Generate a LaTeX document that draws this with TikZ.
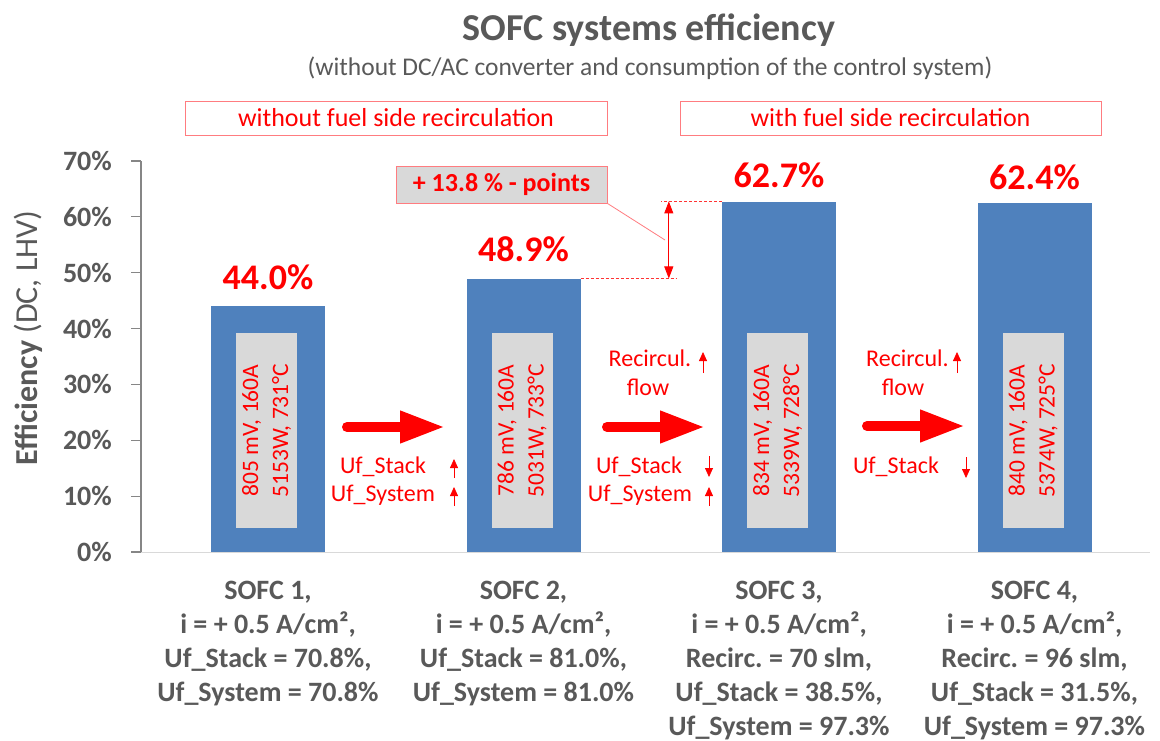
\documentclass[tikz,border=0pt]{standalone}
\usepackage{fontspec}
\setmainfont{Carlito}
\usetikzlibrary{arrows.meta}
\definecolor{barblue}{HTML}{4F81BD}
\definecolor{lgray}{HTML}{D9D9D9}
\definecolor{tgray}{HTML}{595959}
\definecolor{agray}{HTML}{868686}
\definecolor{pinkred}{HTML}{FF7C80}
\frenchspacing
\begin{document}
\begin{tikzpicture}[x=1bp,y=-1bp,
  bar/.style={fill=barblue, draw=none, minimum width=114bp, inner sep=0, anchor=south},
  inbox/.style={fill=lgray, rotate=90, minimum width=195bp, minimum height=61bp, inner sep=0, align=center, text=red, font=\fontsize{23.5bp}{30bp}\selectfont},
  val/.style={text=red, inner sep=0, font=\fontsize{36bp}{40bp}\selectfont\bfseries},
  note/.style={text=red, inner sep=0, font=\fontsize{24bp}{28bp}\selectfont},
  hdr/.style={draw=pinkred, line width=0.8bp, text=red, minimum height=34bp, inner sep=0, font=\fontsize{26bp}{28bp}\selectfont},
  ticklbl/.style={anchor=east, text=tgray, inner sep=0, font=\fontsize{28bp}{30bp}\selectfont\bfseries},
  cat/.style={anchor=north, align=center, text=tgray, inner sep=0, font=\fontsize{28bp}{34bp}\selectfont\bfseries},
  bigarrow/.style={draw=red, line width=10bp, line cap=round, -{Triangle[length=45bp,width=30bp]}},
  smallarrow/.style={draw=red, line width=0.8bp, -{Triangle[length=9bp,width=8bp]}},
  gap/.style={draw=red, line width=0.8bp, {Triangle[length=12bp,width=9bp]}-{Triangle[length=12bp,width=9bp]}},
  guide/.style={draw=red!80, line width=0.7bp, dash pattern=on 3bp off 2bp}
]
\useasboundingbox (0,0) rectangle (1160,741);
\fill[white] (0,0) rectangle (1160,741);

% title
\node[text=tgray, font=\fontsize{38bp}{40bp}\selectfont\bfseries] (title) at (649,30) {SOFC systems efficiency};
\node[text=tgray, font=\fontsize{25.5bp}{28bp}\selectfont] (subtitle) at (650,68) {(without DC/AC converter and consumption of the control system)};

% header boxes
\node[hdr, minimum width=422bp] (h1) at (396,118) {without fuel side recirculation};
\node[hdr, minimum width=421bp] (h2) at (890.5,118) {with fuel side recirculation};

% axes
\draw[lgray, line width=1bp] (141,552) -- (1150,552);
\draw[agray, line width=1.2bp] (141,161) -- (141,552);
\foreach \p in {0,...,7}{
  \pgfmathsetmacro\yy{552-55.857*\p}
  \pgfmathtruncatemacro\v{\p*10}
  \draw[agray, line width=1.2bp] (131,\yy) -- (141,\yy);
  \node[ticklbl] at (112,\yy) {\v\%};
}
\node[rotate=90, text=tgray, font=\fontsize{32bp}{34bp}\selectfont] (ytitle) at (28,338) {\textbf{Efficiency} (DC, LHV)};

% bars
\node[bar, minimum height=245.8bp] (b1) at (268,552) {};
\node[bar, minimum height=273.1bp] (b2) at (523.5,552) {};
\node[bar, minimum height=350.2bp] (b3) at (779,552) {};
\node[bar, minimum height=348.6bp] (b4) at (1034.5,552) {};

% inner boxes
\node[inbox] (g1) at (266.5,430.5) {805 mV, 160A\\5153W, 731°C};
\node[inbox] (g2) at (522,430.5) {786 mV, 160A\\5031W, 733°C};
\node[inbox] (g3) at (777.5,430.5) {834 mV, 160A\\5339W, 728°C};
\node[inbox] (g4) at (1033,430.5) {840 mV, 160A\\5374W, 725°C};

% value labels
\node[val] (v1) at ([yshift=29bp]b1.north) {44.0\%};
\node[val] (v2) at ([yshift=29bp]b2.north) {48.9\%};
\node[val] (v3) at ([yshift=26bp]b3.north) {62.7\%};
\node[val] (v4) at ([yshift=26bp]b4.north) {62.4\%};

% difference marker
\draw[guide] (b2.north east) -- ++(96,0);
\draw[guide] (b3.north west) -- ++(-61,0);
\coordinate (dtop) at ([xshift=-53bp]b3.north west);
\coordinate (dbot) at (dtop |- b2.north);
\draw[gap] (dtop) -- (dbot);
\node[fill=lgray, draw=pinkred, line width=0.8bp, minimum width=211bp, minimum height=37bp, inner sep=0, text=red, font=\fontsize{26bp}{28bp}\selectfont\bfseries] (callout) at (501.5,184.5) {+ 13.8 \% - points};
\coordinate (lead) at (665,240);
\draw[pinkred, line width=0.8bp] (callout.south east) -- (lead);

% transition arrows
\draw[bigarrow] (347,427) -- (445,427);
\draw[bigarrow] (607,427) -- (705,427);
\draw[bigarrow] (867,426) -- (965,426);

% transition labels
\node[note] (s1) at (383,467) {Uf\_Stack};
\node[note] (y1) at (383,495) {Uf\_System};
\draw[smallarrow] (454,478) -- (454,459);
\draw[smallarrow] (454,506) -- (454,487);

\node[note] (r2) at (650,358) {Recircul.};
\node[note] (f2) at (648,387) {flow};
\node[note] (s2) at (639,467) {Uf\_Stack};
\node[note] (y2) at (640,495) {Uf\_System};
\draw[smallarrow] (703,373) -- (703,352);
\draw[smallarrow] (709,456) -- (709,477);
\draw[smallarrow] (709,506) -- (709,487);

\node[note] (r3) at (907.5,358) {Recircul.};
\node[note] (f3) at (903,387) {flow};
\node[note] (s3) at (896,467) {Uf\_Stack};
\draw[smallarrow] (957,373) -- (957,352);
\draw[smallarrow] (966,457) -- (966,478);

% category labels
\node[cat] (c1) at (268,581) {SOFC 1,\\i = + 0.5 A/cm²,\\Uf\_Stack = 70.8\%,\\Uf\_System = 70.8\%};
\node[cat] (c2) at (523.5,581) {SOFC 2,\\i = + 0.5 A/cm²,\\Uf\_Stack = 81.0\%,\\Uf\_System = 81.0\%};
\node[cat] (c3) at (779,581) {SOFC 3,\\i = + 0.5 A/cm²,\\Recirc. = 70 slm,\\Uf\_Stack = 38.5\%,\\Uf\_System = 97.3\%};
\node[cat] (c4) at (1034.5,581) {SOFC 4,\\i = + 0.5 A/cm²,\\Recirc. = 96 slm,\\Uf\_Stack = 31.5\%,\\Uf\_System = 97.3\%};
\end{tikzpicture}
\end{document}
